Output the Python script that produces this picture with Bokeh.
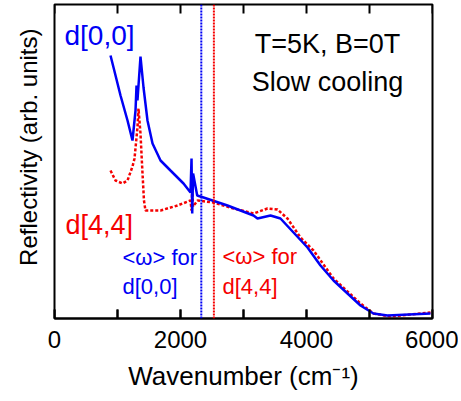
from bokeh.plotting import figure
from bokeh.models import (Range1d, LinearAxis, FixedTicker, Label, Span, Title,
                          Whisker, ColumnDataSource)
from bokeh.embed import file_html
from bokeh.resources import INLINE

# ---- data ----
wn_00 = [889, 937, 1048, 1159, 1238, 1286, 1302, 1317, 1365, 1413, 1476, 1556, 1683, 1841, 2048,
         2159, 2175, 2186, 2200, 2265, 2365, 2746, 2952, 3159, 3222, 3429, 3587, 3794, 4016, 4222,
         4429, 4651, 4857, 5063, 5286, 5968]
refl_00 = [263, 251, 223, 198, 178, 208, 233, 218, 262, 231, 198, 175, 158, 148, 135,
           126, 160, 105, 145, 123, 121, 113, 108, 103, 100, 103, 100, 86, 71, 53,
           38, 25, 13, 5, 3, 5]

wn_44 = [889, 968, 1079, 1159, 1238, 1270, 1317, 1333, 1365, 1392, 1420, 1444, 1683, 1952, 2159,
         2175, 2186, 2200, 2270, 2524, 2841, 3159, 3381, 3540, 3698, 3905, 4111, 4429, 4857, 5063, 5333, 5968]
refl_44 = [148, 138, 135, 138, 152, 160, 191, 210, 185, 151, 118, 108, 108, 113, 118,
           108, 128, 112, 118, 116, 110, 105, 110, 109, 100, 81, 68, 40, 15, 5, 2, 6]

omega_avg = [2330, 2530]          # <omega> for d[0,0], d[4,4]
x_ticks = [0, 1000, 2000, 3000, 4000, 5000, 6000]
x_tick_labels = {1000: "", 3000: "", 5000: ""}

X_MIN, X_MAX = 0, 6000
Y_MIN, Y_MAX = 0, 314
TICK_LEN = 9

BLUE = "#0000f5"
RED = "#f50000"
FONT = "Liberation Sans"

p = figure(width=458, height=398, output_backend="svg", toolbar_location=None,
           x_range=Range1d(X_MIN, X_MAX), y_range=Range1d(Y_MIN, Y_MAX),
           min_border_left=54, min_border_right=26, min_border_top=4, min_border_bottom=80,
           x_axis_location=None, y_axis_location=None)
p.xgrid.visible = False
p.ygrid.visible = False
p.outline_line_color = "black"
p.outline_line_width = 2
p.background_fill_color = "white"
p.border_fill_color = "white"

# bottom axis (inward ticks)
xb = LinearAxis(ticker=FixedTicker(ticks=x_ticks), major_label_overrides=x_tick_labels)
xb.axis_label = "Wavenumber (cm\u207b\u00b9)"
xb.axis_label_text_font = FONT
xb.axis_label_text_font_size = "26px"
xb.axis_label_text_font_style = "normal"
xb.axis_label_text_color = "black"
xb.axis_label_standoff = 10
xb.major_label_text_font = FONT
xb.major_label_text_font_size = "24px"
xb.major_label_text_color = "black"
xb.major_label_standoff = 12
xb.major_tick_in = TICK_LEN
xb.major_tick_out = 0
xb.major_tick_line_width = 2
xb.major_tick_line_color = "black"
xb.minor_tick_line_color = None
xb.axis_line_width = 2
xb.axis_line_color = "black"
p.add_layout(xb, "below")

# y-axis title on the left
yt = Title(text="Reflectivity (arb. units)", align="right", offset=24,
           text_font=FONT, text_font_size="24px", text_font_style="normal",
           text_color="black", standoff=25)
p.add_layout(yt, "left")

# vertical dotted lines
p.add_layout(Span(location=omega_avg[0], dimension="height", line_color=BLUE,
                  line_width=2, line_dash="2 1"))
p.add_layout(Span(location=omega_avg[1], dimension="height", line_color=RED,
                  line_width=2, line_dash="2 1"))

# curves
p.line(wn_44, refl_44, line_color=RED, line_width=2.5, line_dash="3 2")
p.line(wn_00, refl_00, line_color=BLUE, line_width=2.5)

# inward ticks on the bottom and top edges
n = len(x_ticks)
tick_src = ColumnDataSource(dict(x=x_ticks,
                                 b_lo=[Y_MIN] * n, b_hi=[Y_MIN + TICK_LEN] * n,
                                 t_lo=[Y_MAX - TICK_LEN] * n, t_hi=[Y_MAX] * n))
for lo, hi in (("b_lo", "b_hi"), ("t_lo", "t_hi")):
    p.add_layout(Whisker(source=tick_src, base="x", lower=lo, upper=hi, dimension="height",
                         line_color="black", line_width=2, lower_head=None, upper_head=None))

def lab(x, y, t, color, size, align="left"):
    p.add_layout(Label(x=x, y=y, text=t, text_color=color, text_font=FONT,
                       text_font_size=size, text_align=align, text_baseline="middle"))

lab(159, 283, "d[0,0]", BLUE, "28px")
lab(4333, 275, "T=5K, B=0T", "black", "27px", "center")
lab(4333, 237, "Slow cooling", "black", "27px", "center")
lab(175, 94, "d[4,4]", RED, "27px")
lab(1079, 61, "<\u03c9> for", BLUE, "22px")
lab(1079, 32, "d[0,0]", BLUE, "22px")
lab(2667, 62, "<\u03c9> for", RED, "22px")
lab(2667, 32, "d[4,4]", RED, "22px")

open("out.html", "w").write(file_html(p, INLINE))
